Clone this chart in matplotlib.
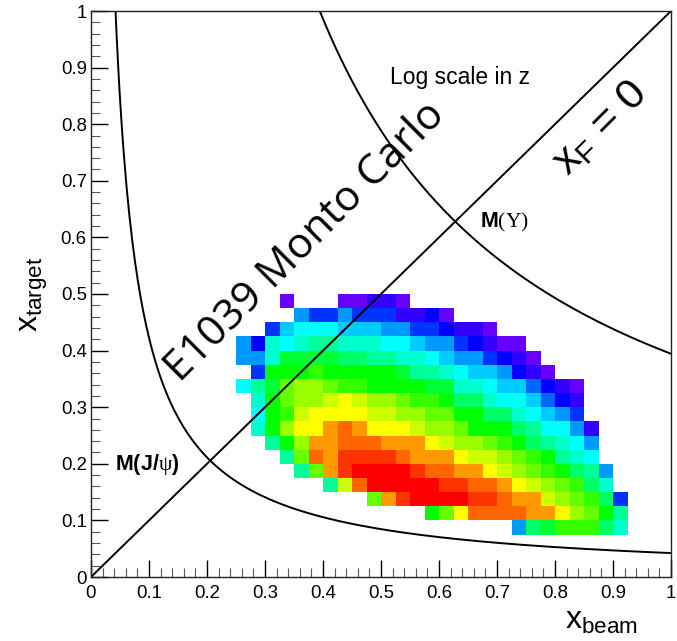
import numpy as np
import matplotlib
matplotlib.use("Agg")
import matplotlib.pyplot as plt
from matplotlib.colors import ListedColormap, BoundaryNorm, hsv_to_rgb
from matplotlib.ticker import MultipleLocator, FixedLocator, FixedFormatter

plt.rcParams['font.family'] = ['Liberation Sans', 'DejaVu Sans']
plt.rcParams['mathtext.fontset'] = 'custom'
plt.rcParams['mathtext.rm'] = 'Liberation Serif'
plt.rcParams['mathtext.it'] = 'Liberation Serif:italic'
plt.rcParams['mathtext.bf'] = 'Liberation Sans:bold'

# ---- histogram binning -------------------------------------------------
bin_width = 0.025
n_bins = 40

# Colour level of each filled bin (log scale in z, 0 = lowest, 22 = highest).
# One list per y-bin, starting at x-bin row_first_bin; None = empty bin.
row_ybin = [19, 18, 17, 16, 15, 14, 13, 12, 11, 10, 9, 8, 7, 6, 5, 4, 3]
row_first_bin = [13, 14, 12, 10, 10, 11, 10, 11, 11, 11, 12, 13, 14, 16, 19, 23, 29]
row_levels = [
    [0, None, None, None, 0, 0, 1, 1, 0],
    [5, 3, 3, 5, 3, 3, 3, 1, 1, 2, 0],
    [3, 6, 7, 7, 7, 6, 6, 6, 5, 5, 3, 3, 2, 1, 1, 0],
    [5, 2, 8, 7, 8, 9, 9, 8, 8, 8, 7, 7, 6, 5, 5, 3, 2, 1, 0, 0],
    [5, 5, 8, 11, 11, 11, 11, 10, 10, 9, 9, 8, 8, 7, 6, 5, 5, 3, 2, 1, 0],
    [3, 12, 12, 12, 13, 12, 12, 12, 12, 12, 11, 9, 9, 8, 7, 6, 6, 5, 2, 1, 0],
    [7, 9, 11, 14, 15, 15, 14, 13, 13, 12, 12, 12, 12, 11, 11, 8, 8, 7, 6, 6, 4, 2, 1, 0],
    [8, 12, 14, 15, 15, 16, 17, 16, 15, 15, 14, 13, 13, 12, 10, 10, 8, 7, 7, 6, 4, 2, 1],
    [7, 12, 13, 16, 17, 17, 17, 17, 16, 16, 15, 15, 14, 14, 12, 12, 10, 10, 8, 7, 6, 5, 3],
    [8, 12, 15, 17, 17, 19, 20, 19, 17, 17, 17, 16, 15, 15, 14, 12, 12, 12, 10, 9, 7, 7, 5, 1],
    [9, 12, 15, 19, 19, 20, 20, 20, 19, 19, 19, 17, 16, 15, 15, 14, 13, 12, 10, 9, 8, 7, 5],
    [9, 14, 20, 19, 21, 21, 21, 21, 20, 19, 19, 19, 17, 16, 16, 15, 14, 13, 12, 9, 8, 7],
    [9, 14, 19, 21, 22, 22, 22, 22, 21, 20, 20, 19, 19, 17, 16, 15, 14, 13, 12, 10, 9, 5],
    [9, 16, 20, 22, 22, 22, 22, 22, 21, 21, 20, 20, 19, 17, 16, 15, 14, 13, 10, 8],
    [14, 19, 21, 22, 22, 22, 22, 21, 21, 20, 19, 19, 16, 15, 14, 13, 10, 3],
    [12, 14, 17, 20, 20, 20, 20, 19, 19, 17, 15, 14, 12, 9],
    [5, 10, 11, 13, 13, 13, 10, 8],
]
n_levels = 23

# ---- kinematic curves --------------------------------------------------
s_hat = 226.9          # s in GeV^2 for a 120 GeV proton beam on a fixed target
m_jpsi = 3.097
m_upsilon = 9.46

tick_values = [0.0, 0.1, 0.2, 0.3, 0.4, 0.5, 0.6, 0.7, 0.8, 0.9, 1.0]
tick_labels = ['0', '0.1', '0.2', '0.3', '0.4', '0.5', '0.6', '0.7', '0.8', '0.9', '1']

# ---- build the 2D array ------------------------------------------------
z = np.full((n_bins, n_bins), np.nan)
for yb, first, levels in zip(row_ybin, row_first_bin, row_levels):
    for i, lv in enumerate(levels):
        if lv is not None:
            z[yb, first + i] = lv
z = np.ma.masked_invalid(z)
edges = np.arange(n_bins + 1) * bin_width

# rainbow palette, violet -> red
hues = np.linspace(264.0, 0.0, n_levels) / 360.0
palette = hsv_to_rgb(np.column_stack([hues, np.ones(n_levels), np.ones(n_levels)]))
cmap = ListedColormap(palette)
cmap.set_bad((1, 1, 1, 0))
norm = BoundaryNorm(np.arange(n_levels + 1) - 0.5, n_levels)

W, H = 677, 641
fig = plt.figure(figsize=(W / 100, H / 100), dpi=100)
ax = fig.add_axes([91 / W, 1 - 577 / H, 580 / W, 566 / H])

ax.pcolormesh(edges, edges, z, cmap=cmap, norm=norm, shading='flat')

# x_F = 0 diagonal
ax.plot([0, 1], [0, 1], color='black', lw=1.4)
# constant-mass curves x_beam * x_target = M^2 / s
for m in (m_jpsi, m_upsilon):
    tau = m ** 2 / s_hat
    xs = np.linspace(tau, 1.0, 400)
    ax.plot(xs, tau / xs, color='black', lw=1.4)

ax.set_xlim(0, 1)
ax.set_ylim(0, 1)

for axis in (ax.xaxis, ax.yaxis):
    axis.set_major_locator(FixedLocator(tick_values))
    axis.set_major_formatter(FixedFormatter(tick_labels))
    axis.set_minor_locator(MultipleLocator(0.02))
ax.tick_params(which='both', direction='in', top=False, right=False, labelsize=13.4, colors='black')
ax.tick_params(which='major', length=12.5, width=1.0)
ax.tick_params(which='minor', length=6.3, width=0.8, color='#555555')
ax.tick_params(axis='x', pad=6)
ax.tick_params(axis='y', pad=3)
for sp in ax.spines.values():
    sp.set_linewidth(1.0)
    sp.set_color('#222222')

# axis titles
fig.text(601 / W, 1 - 621 / H, r'$\mathregular{x_{beam}}$', fontsize=23,
         ha='center', va='center')
fig.text(34 / W, 1 - 294 / H, r'$\mathregular{x_{target}}$', fontsize=23,
         ha='center', va='center', rotation=90)

# annotations
ax.text(0.370, 0.592, 'E1039 Monto Carlo', family=['Open Sans', 'DejaVu Sans'],
        fontsize=30.5, rotation=45, rotation_mode='anchor', ha='center', va='center')
ax.text(0.878, 0.793, r'$\mathregular{x_{F}}$ = 0', fontsize=31, rotation=45,
        rotation_mode='anchor', ha='center', va='center')
ax.text(0.636, 0.883, 'Log scale in z', fontsize=16.5, ha='center', va='center')
ax.text(0.671, 0.627, r'$\mathbf{M}\mathrm{(\Upsilon)}$', fontsize=15.5,
        ha='left', va='center')
ax.text(0.041, 0.198, r'$\mathbf{M(J/}\mathrm{\psi}\mathbf{)}$', fontsize=15.5,
        ha='left', va='center')

fig.savefig('out.png', dpi=100)
